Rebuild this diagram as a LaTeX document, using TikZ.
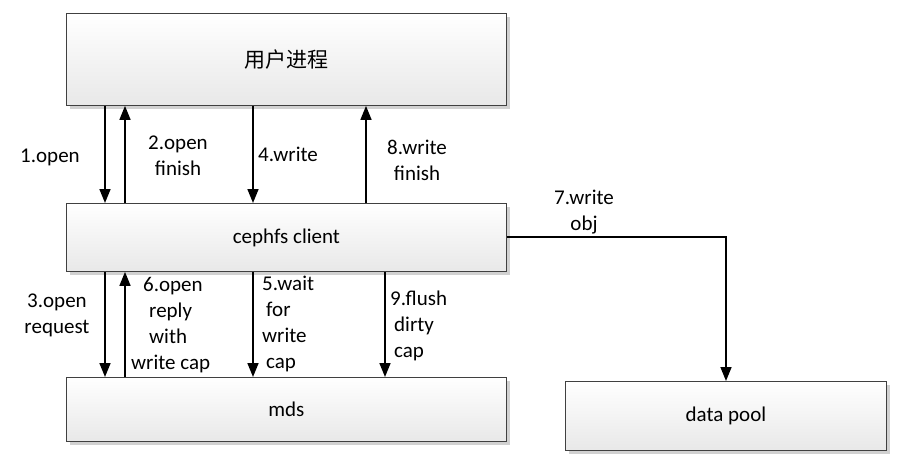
\documentclass[tikz,border=0pt]{standalone}
\usepackage{fontspec}
\setmainfont{Carlito}
\newfontfamily\cjk{Noto Sans CJK SC}
\usetikzlibrary{arrows.meta,shadows}
\begin{document}
\begin{tikzpicture}[x=1pt,y=-1pt,
  box/.style={draw=black!75,line width=0.9pt,top color=white,bottom color=black!9,
     drop shadow={shadow xshift=4pt,shadow yshift=-4pt,fill=black!18,opacity=1}},
  arr/.style={line width=1.6pt,-{Triangle[length=14pt,width=11pt]}},
  lbl/.style={font=\fontsize{21}{26}\selectfont,align=center,inner sep=0pt},
  lbll/.style={font=\fontsize{21}{26}\selectfont,align=left,inner sep=0pt,anchor=west}]
\useasboundingbox (0,0) rectangle (905,458);
\fontsize{21}{26}\selectfont
% boxes
\node[box,minimum width=440pt,minimum height=92pt,anchor=north west] (user) at (66,13) {\cjk 用户进程};
\node[box,minimum width=440pt,minimum height=68pt,anchor=north west] (client) at (66,203) {cephfs client};
\node[box,minimum width=440pt,minimum height=64pt,anchor=north west] (mds) at (66,377) {mds};
\node[box,minimum width=321pt,minimum height=69pt,anchor=north west] (pool) at (565,381) {data pool};
% arrows user <-> client
\draw[arr] (user.south -| 105,0) -- (client.north -| 105,0);
\draw[arr] (client.north -| 125,0) -- (user.south -| 125,0);
\draw[arr] (user.south -| 253,0) -- (client.north -| 253,0);
\draw[arr] (client.north -| 366,0) -- (user.south -| 366,0);
% client <-> mds
\draw[arr] (client.south -| 105,0) -- (mds.north -| 105,0);
\draw[arr] (mds.north -| 125,0) -- (client.south -| 125,0);
\draw[arr] (client.south -| 253,0) -- (mds.north -| 253,0);
\draw[arr] (client.south -| 385,0) -- (mds.north -| 385,0);
% client -> pool
\coordinate (bend) at (726,237);
\draw[arr] (client.east |- bend) -- (bend) -- (pool.north -| bend);
% labels
\node[lbl] (l1) at (50,157) {1.open};
\node[lbl] (l2) at (178,156) {2.open\\finish};
\node[lbll] (l4) at (258,154) {4.write};
\node[lbl] (l8) at (417,160) {8.write\\finish};
\node[lbl] (l7) at (584,212) {7.write\\obj};
\node[lbl] (l3) at (57,315) {3.open\\request};
\node[lbll] (l6) at (131,325) {\hspace*{12pt}6.open\\\hspace*{18pt}reply\\\hspace*{18pt}with\\write cap};
\node[lbll] (l5) at (262,324) {5.wait\\\hspace*{4pt}for\\write\\\hspace*{4pt}cap};
\node[lbll] (l9) at (390,326) {9.flush\\\hspace*{4pt}dirty\\\hspace*{4pt}cap};
\end{tikzpicture}
\end{document}
